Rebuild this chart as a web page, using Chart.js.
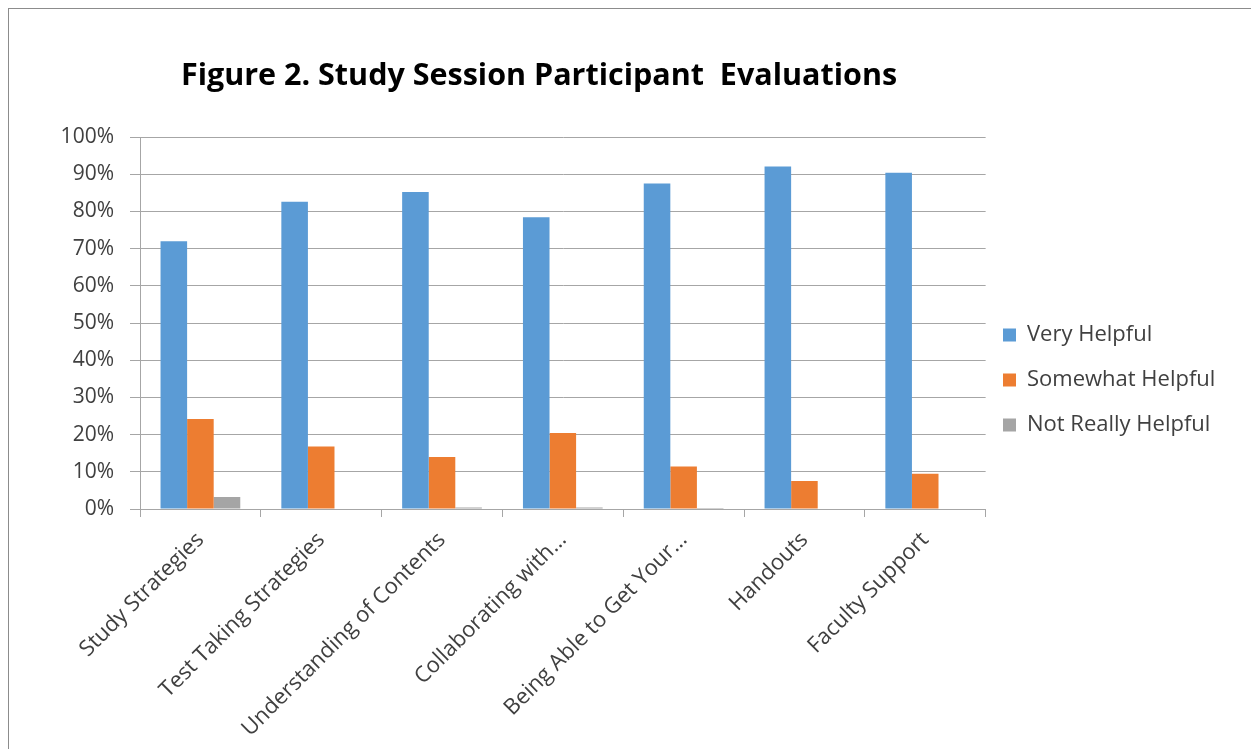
<!DOCTYPE html>
<html>
<head>
<meta charset="utf-8">
<script src="https://cdn.jsdelivr.net/npm/chart.js@4.4.0/dist/chart.umd.min.js"></script>
<style>
  html, body { margin: 0; padding: 0; background: #fff; overflow: hidden; }
  #wrap { position: relative; width: 1251px; height: 749px; }
  #frame { position: absolute; left: 8px; top: 8px; width: 1400px; height: 900px; border: 1px solid #8c8c8c; box-sizing: border-box; }
  canvas { position: absolute; left: 0; top: 0; }
</style>
</head>
<body>
<div id="wrap">
  <div id="frame"></div>
  <canvas id="c" width="1251" height="749"></canvas>
</div>
<script>
const TITLE = "Figure 2. Study Session Participant  Evaluations";
const categories = ["Study Strategies", "Test Taking Strategies", "Understanding of Contents", "Collaborating with…", "Being Able to Get Your…", "Handouts", "Faculty Support"];
const veryHelpful = [72.0, 82.6, 85.2, 78.4, 87.5, 92.1, 90.4];
const somewhatHelpful = [24.2, 16.8, 14.0, 20.4, 11.4, 7.5, 9.5];
const notReallyHelpful = [3.2, 0, 0.4, 0.4, 0.3, 0, 0];
const seriesNames = ["Very Helpful", "Somewhat Helpful", "Not Really Helpful"];
const yTicks = [0, 10, 20, 30, 40, 50, 60, 70, 80, 90, 100];

const FONT = "'Open Sans', 'Liberation Sans', sans-serif";
const TXT = "#404040";
const GRID = "#a6a6a6";

const titlePlugin = {
  id: 'customTitle',
  afterDraw(chart) {
    const ctx = chart.ctx;
    ctx.save();
    ctx.font = "bold 30.5px " + FONT;
    ctx.fillStyle = "#000";
    ctx.textAlign = "center";
    ctx.textBaseline = "middle";
    ctx.fillText(TITLE, 539, 76);
    ctx.restore();
  }
};

const legendPos = {
  id: 'legendPos',
  beforeDraw(chart) {
    const lg = chart.legend;
    if (!lg) return;
    lg.left = 980;
    lg.right = 1251;
    lg.top = 380 - 120;
    lg.bottom = 380 + 120;
  }
};

new Chart(document.getElementById('c'), {
  type: 'bar',
  data: {
    labels: categories,
    datasets: [
      { label: seriesNames[0], data: veryHelpful, backgroundColor: '#5b9bd5' },
      { label: seriesNames[1], data: somewhatHelpful, backgroundColor: '#ed7d31' },
      { label: seriesNames[2], data: notReallyHelpful, backgroundColor: '#a5a5a5' }
    ]
  },
  options: {
    responsive: false,
    animation: false,
    devicePixelRatio: 1,
    layout: { padding: { top: 137, left: 0, right: 20, bottom: 0 } },
    datasets: { bar: { categoryPercentage: 0.66, barPercentage: 1.0 } },
    plugins: {
      title: { display: false },
      tooltip: { enabled: false },
      legend: {
        position: 'right',
        align: 'center',
        labels: {
          boxWidth: 13, boxHeight: 13,
          padding: 23,
          color: TXT,
          font: { family: FONT, size: 22 }
        }
      }
    },
    scales: {
      x: {
        afterFit(s) { s.height = 749 - 509; },
        grid: { display: true, offset: true, drawOnChartArea: false, drawTicks: true, tickLength: 8, color: GRID },
        border: { display: true, color: GRID },
        ticks: {
          autoSkip: false, maxRotation: 45, minRotation: 45, padding: 10,
          color: TXT, font: { family: FONT, size: 22 }
        }
      },
      y: {
        min: 0, max: 100,
        afterFit(s) { s.width = 140; },
        afterBuildTicks(s) { s.ticks = yTicks.map(v => ({ value: v })); },
        grid: { color: GRID, tickLength: 10, drawTicks: true },
        border: { display: true, color: GRID },
        ticks: {
          padding: 16,
          color: TXT, font: { family: FONT, size: 21 },
          callback: v => v + '%'
        }
      }
    }
  },
  plugins: [titlePlugin, legendPos]
});
</script>
</body>
</html>
